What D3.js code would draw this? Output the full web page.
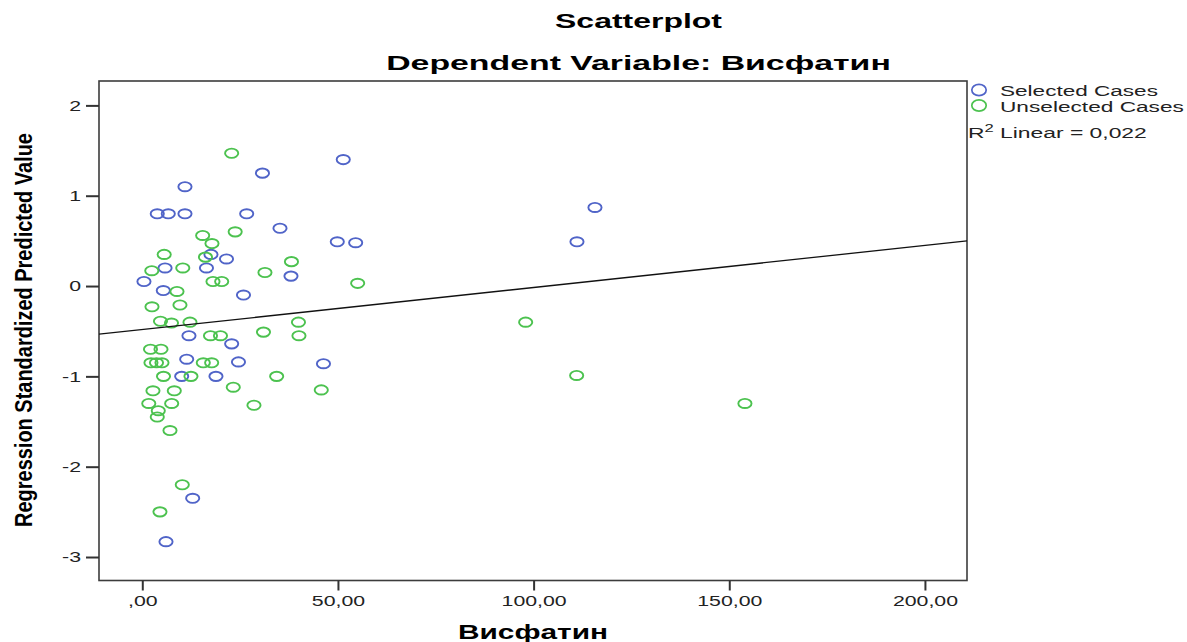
<!DOCTYPE html>
<html>
<head>
<meta charset="utf-8">
<script src="https://cdn.jsdelivr.net/npm/d3@7"></script>
<style>
  html, body { margin: 0; padding: 0; background: #fff; }
  svg { display: block; font-family: "Liberation Sans", Arial, sans-serif; }
</style>
</head>
<body>
<svg id="chart" width="1187" height="642"></svg>
<script>
// Visfatin (x) vs. regression standardized predicted value (y)
const selectedVisfatin = [0.43, 3.83, 6.64, 10.91, 10.91, 5.82, 5.37, 26.68, 30.71, 51.36,
  35.19, 17.55, 21.52, 16.40, 25.86, 38.00, 49.83, 54.53, 111.08, 115.68,
  11.93, 11.35, 22.84, 24.58, 46.30, 10.07, 18.83, 12.88, 6.06];
const selectedPredicted = [0.05, 0.80, 0.80, 0.80, 1.10, 0.20, -0.05, 0.80, 1.25, 1.40,
  0.64, 0.35, 0.30, 0.20, -0.10, 0.11, 0.49, 0.48, 0.49, 0.87,
  -0.55, -0.81, -0.64, -0.84, -0.86, -1.00, -1.00, -2.35, -2.83];

const unselectedVisfatin = [22.84, 15.43, 17.81, 23.74, 5.60, 16.15, 2.43, 10.35, 38.12, 31.35,
  18.07, 20.29, 55.04, 8.87, 2.48, 9.63, 4.65, 7.46, 12.19, 39.91,
  17.43, 19.98, 30.97, 40.04, 2.10, 4.78, 2.22, 3.63, 5.03, 15.59,
  17.73, 5.42, 12.44, 34.34, 23.25, 2.73, 8.18, 45.74, 1.66, 7.51,
  28.54, 4.09, 3.83, 7.08, 10.22, 4.52, 97.97, 111.0, 154.0];
const unselectedPredicted = [1.47, 0.56, 0.47, 0.60, 0.35, 0.32, 0.17, 0.20, 0.27, 0.15,
  0.05, 0.05, 0.03, -0.06, -0.23, -0.21, -0.39, -0.41, -0.40, -0.40,
  -0.55, -0.55, -0.51, -0.55, -0.70, -0.70, -0.85, -0.85, -0.85, -0.85,
  -0.85, -1.00, -1.00, -1.00, -1.12, -1.16, -1.16, -1.15, -1.30, -1.30,
  -1.32, -1.38, -1.45, -1.60, -2.20, -2.50, -0.40, -0.99, -1.30];

// Linear fit line (R² = 0,022)
const fitIntercept = -0.4814;
const fitSlope = 0.004654;

const xTicks = [0, 50, 100, 150, 200];
const xTickLabels = [",00", "50,00", "100,00", "150,00", "200,00"];
const yTicks = [-3, -2, -1, 0, 1, 2];
const yTickLabels = ["-3", "-2", "-1", "0", "1", "2"];

const titleText = "Scatterplot";
const subtitleText = "Dependent Variable: Висфатин";
const xLabelText = "Висфатин";
const yLabelText = "Regression Standardized Predicted Value";
const legendLabels = ["Selected Cases", "Unselected Cases"];
const fitLabel = { base: "R", sup: "2", rest: " Linear = 0,022" };

const blue = "#5064c8";
const green = "#4cc24f";

const svg = d3.select("#chart");
const plot = { left: 99, right: 967, top: 81, bottom: 580.5 };

const x = d3.scaleLinear().domain([-11.06, 210.75]).range([plot.left, plot.right]);
const y = d3.scaleLinear().domain([-3.26, 2.27]).range([plot.bottom, plot.top]);

// Places a horizontally stretched text so it spans the given width
function stretchedText(parent, str, px, py, opts) {
  const g = parent.append("g");
  const t = g.append("text")
    .attr("font-size", opts.size)
    .attr("font-weight", opts.weight || "normal")
    .attr("fill", opts.fill || "#000")
    .attr("text-anchor", opts.anchor || "start")
    .text(str);
  const w = t.node().getBBox().width;
  const k = opts.width / w;
  g.attr("transform", `translate(${px},${py}) scale(${k},1)`);
  return t;
}

// Plot frame
svg.append("rect")
  .attr("x", plot.left).attr("y", plot.top)
  .attr("width", plot.right - plot.left).attr("height", plot.bottom - plot.top)
  .attr("fill", "none").attr("stroke", "#3c3c3c").attr("stroke-width", 1.6);

// Axes
const tickK = 1.42;
const xAxis = d3.axisBottom(x).tickValues(xTicks)
  .tickFormat((d, i) => xTickLabels[i]).tickSize(10).tickSizeOuter(0).tickPadding(5);
const gx = svg.append("g").attr("transform", `translate(0,${plot.bottom})`).call(xAxis);
gx.select(".domain").remove();
gx.selectAll(".tick line").attr("stroke", "#333").attr("stroke-width", 2);
gx.selectAll(".tick text")
  .attr("font-family", "Liberation Sans, Arial, sans-serif")
  .attr("font-size", 15).attr("fill", "#222")
  .attr("transform", `scale(${tickK},1)`);

const yAxis = d3.axisLeft(y).tickValues(yTicks)
  .tickFormat((d, i) => yTickLabels[i]).tickSize(13).tickSizeOuter(0).tickPadding(5);
const gy = svg.append("g").attr("transform", `translate(${plot.left},0)`).call(yAxis);
gy.select(".domain").remove();
gy.selectAll(".tick line").attr("stroke", "#333").attr("stroke-width", 2);
gy.selectAll(".tick text")
  .attr("font-family", "Liberation Sans, Arial, sans-serif")
  .attr("font-size", 15).attr("fill", "#222")
  .attr("x", -18 / tickK)
  .attr("transform", `scale(${tickK},1)`);

// Markers and fit line, clipped to the plot area
svg.append("clipPath").attr("id", "plotClip")
  .append("rect")
  .attr("x", plot.left).attr("y", plot.top)
  .attr("width", plot.right - plot.left).attr("height", plot.bottom - plot.top);
const inner = svg.append("g").attr("clip-path", "url(#plotClip)");

const selected = selectedVisfatin.map((v, i) => ({ x: v, y: selectedPredicted[i] }));
const unselected = unselectedVisfatin.map((v, i) => ({ x: v, y: unselectedPredicted[i] }));

inner.selectAll("ellipse.sel").data(selected).join("ellipse")
  .attr("class", "sel")
  .attr("cx", d => x(d.x)).attr("cy", d => y(d.y))
  .attr("rx", 6.6).attr("ry", 4.6)
  .attr("fill", "none").attr("stroke", blue).attr("stroke-width", 1.9);

inner.selectAll("ellipse.unsel").data(unselected).join("ellipse")
  .attr("class", "unsel")
  .attr("cx", d => x(d.x)).attr("cy", d => y(d.y))
  .attr("rx", 6.6).attr("ry", 4.6)
  .attr("fill", "none").attr("stroke", green).attr("stroke-width", 1.9);

const [x0, x1] = x.domain();
inner.append("line")
  .attr("x1", x(x0)).attr("y1", y(fitIntercept + fitSlope * x0))
  .attr("x2", x(x1)).attr("y2", y(fitIntercept + fitSlope * x1))
  .attr("stroke", "#111").attr("stroke-width", 1.3);

// Titles
stretchedText(svg, titleText, 638.5, 28, { size: 21, weight: "bold", anchor: "middle", width: 167 });
stretchedText(svg, subtitleText, 638.5, 70, { size: 21, weight: "bold", anchor: "middle", width: 505 });
stretchedText(svg, xLabelText, 533, 639, { size: 20, weight: "bold", anchor: "middle", width: 150 });

// Rotated y-axis title
{
  const g = svg.append("g");
  const t = g.append("text")
    .attr("font-size", 20).attr("font-weight", "bold").attr("fill", "#000")
    .attr("text-anchor", "middle").text(yLabelText);
  const w = t.node().getBBox().width;
  g.attr("transform", `translate(32,330) scale(1.17,1) rotate(-90) scale(${394 / w},1)`);
}

// Legend
const legendColors = [blue, green];
const legendY = [90, 105.5];
legendLabels.forEach((lab, i) => {
  svg.append("ellipse")
    .attr("cx", 979).attr("cy", legendY[i])
    .attr("rx", 7.2).attr("ry", 5.6)
    .attr("fill", "none").attr("stroke", legendColors[i]).attr("stroke-width", 1.7);
});
stretchedText(svg, legendLabels[0], 1000, 95.5, { size: 14.5, width: 158, fill: "#222" });
stretchedText(svg, legendLabels[1], 1000, 111.5, { size: 14.5, width: 184, fill: "#222" });

{
  const g = svg.append("g");
  const t = g.append("text").attr("font-size", 14.5).attr("fill", "#222");
  t.append("tspan").text(fitLabel.base);
  t.append("tspan").attr("font-size", 10.5).attr("dy", -6).text(fitLabel.sup);
  t.append("tspan").attr("dy", 6).text(fitLabel.rest);
  const w = t.node().getBBox().width;
  g.attr("transform", `translate(968,138) scale(${179 / w},1)`);
}
</script>
</body>
</html>
